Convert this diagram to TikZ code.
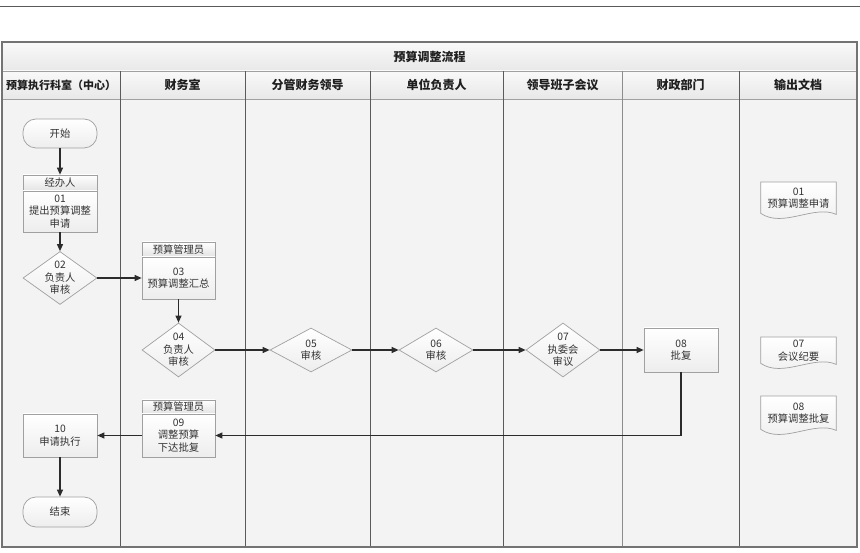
\documentclass[tikz,border=0pt]{standalone}
\usepackage{fontspec}
\setmainfont{Noto Sans CJK SC}
\usetikzlibrary{shapes.geometric,arrows.meta}
\definecolor{bordergray}{HTML}{A0A0A0}
\definecolor{lanegray}{HTML}{5A5A5A}
\definecolor{bodybg}{HTML}{F3F3F3}
\definecolor{hdrtop}{HTML}{F9F9F9}
\definecolor{hdrbot}{HTML}{E8E8E8}
\definecolor{linecol}{HTML}{2B2B2B}
\definecolor{txtcol}{HTML}{333333}
\pgfdeclarelayer{bg}
\pgfdeclarelayer{docs}
\pgfsetlayers{bg,docs,main}
\begin{document}
\begin{tikzpicture}[x=1pt,y=-1pt,
  every node/.style={font=\fontsize{10.3}{12.5}\selectfont, text=txtcol, align=center, inner sep=0pt},
  box/.style={draw=bordergray, line width=0.7pt, top color=white, bottom color=black!7, minimum width=74pt},
  hdrbox/.style={box, bottom color=black!11},
  term/.style={box, rounded corners=13pt},
  dia/.style={diamond, draw=bordergray, line width=0.7pt, top color=white, bottom color=black!7, inner sep=0pt},
  docnode/.style={minimum width=75pt},
  docshape/.style={draw=bordergray, line width=0.7pt, top color=white, bottom color=black!7},
  conn/.style={draw=linecol, line width=1.1pt, -{Triangle[length=7pt,width=6pt]}},
  lanehdr/.style={font=\fontsize{12}{14}\selectfont\bfseries, text=black!88}
]
\useasboundingbox (0,0) rectangle (860,553);

\begin{pgfonlayer}{bg}
  \draw[lanegray, line width=1.5pt] (0,6.5) -- (860,6.5);
  \fill[bodybg] (2,99) rectangle (857,547);
  \shade[top color=hdrtop, bottom color=hdrbot] (2,42) rectangle (857,71);
  \shade[top color=hdrtop, bottom color=hdrbot] (2,71) rectangle (857,99);
  \draw[bordergray, line width=0.9pt] (2,71) -- (857,71);
  \draw[bordergray, line width=0.9pt] (2,99) -- (857,99);
  \foreach \x in {120,245,370,503,739}
    \draw[lanegray, line width=0.9pt] (\x,71) -- (\x,547);
  \draw[black!45, line width=0.9pt] (622,71) -- (622,547);
  \draw[black!55, line width=1.2pt] (2,42) rectangle (857,547);
\end{pgfonlayer}

% title and lane headers
\node[lanehdr] (title) at (429.5,56.5) {预算调整流程};
\node[lanehdr, font=\fontsize{11}{13}\selectfont\bfseries] (l1) at (61,85) {预算执行科室（中心）};
\node[lanehdr] (l2) at (182.5,85) {财务室};
\node[lanehdr] (l3) at (307.5,85) {分管财务领导};
\node[lanehdr] (l4) at (436.5,85) {单位负责人};
\node[lanehdr] (l5) at (562.5,85) {领导班子会议};
\node[lanehdr] (l6) at (680.5,85) {财政部门};
\node[lanehdr] (l7) at (798,85) {输出文档};

% lane 1
\node[term, minimum height=29pt] (start) at (60,133.5) {开始};
\node[hdrbox, minimum height=16pt] (h1) at (60,183) {经办人};
\node[box, minimum height=41pt] (b1) at (60,211.5) {01\\提出预算调整\\申请};
\node[dia, minimum width=74pt, minimum height=53pt,
      label={[align=center]center:02\\负责人\\审核}] (d02) at (60,278) {};
\node[box, minimum height=43pt] (n10) at (60,435.5) {10\\申请执行};
\node[term, minimum height=30pt] (stop) at (60,512) {结束};

% lane 2
\node[hdrbox, minimum width=73pt, minimum height=15pt] (h3) at (178.5,249.5) {预算管理员};
\node[box, minimum width=73pt, minimum height=42pt] (b3) at (178.5,278) {03\\预算调整汇总};
\node[dia, minimum width=73pt, minimum height=54pt,
      label={[align=center]center:04\\负责人\\审核}] (d04) at (178.5,350) {};
\node[hdrbox, minimum width=73pt, minimum height=14pt] (h9) at (178.5,407) {预算管理员};
\node[box, minimum width=73pt, minimum height=43pt] (b9) at (178.5,435.5) {09\\调整预算\\下达批复};

% lanes 3-6
\node[dia, minimum width=82pt, minimum height=44pt,
      label={[align=center]center:05\\审核}] (d05) at (311,350) {};
\node[dia, minimum width=74pt, minimum height=44pt,
      label={[align=center]center:06\\审核}] (d06) at (436,350) {};
\node[dia, minimum width=74pt, minimum height=54pt,
      label={[align=center]center:07\\执委会\\审议}] (d07) at (563,350) {};
\node[box, minimum height=44pt] (n08) at (681,350) {08\\批复};

% output documents
\node[docnode, minimum height=32pt, anchor=north] (o1) at (798.5,182) {01\\预算调整申请};
\node[docnode, minimum height=27pt, anchor=north] (o7) at (798.5,337) {07\\会议纪要};
\node[docnode, minimum height=34pt, anchor=north] (o8) at (798.5,396) {08\\预算调整批复};
\begin{pgfonlayer}{docs}
  \foreach \d in {o1,o7,o8}
    \path[docshape] (\d.north west) -- (\d.north east) -- (\d.south east)
      .. controls ([xshift=-22pt,yshift=10pt]\d.south east) and ([xshift=22pt,yshift=-14pt]\d.south west) ..
      ([yshift=1pt]\d.south west) -- cycle;
\end{pgfonlayer}

% connectors
\draw[conn] (start) -- (h1);
\draw[conn] (b1) -- (d02);
\draw[conn] (d02) -- (b3);
\draw[conn] (b3) -- (d04);
\draw[conn] (d04) -- (d05);
\draw[conn] (d05) -- (d06);
\draw[conn] (d06) -- (d07);
\draw[conn] (d07) -- (n08);
\draw[conn] (n08.south) |- (b9.east);
\draw[conn] (b9) -- (n10);
\draw[conn] (n10) -- (stop);
\end{tikzpicture}
\end{document}
